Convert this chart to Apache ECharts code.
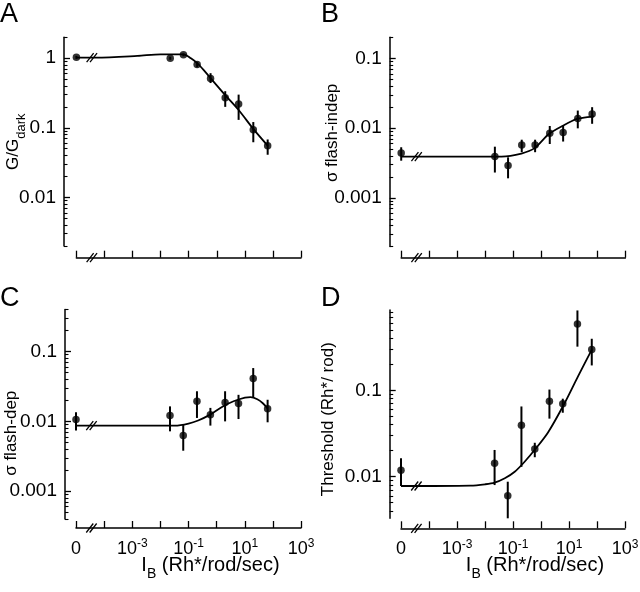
<!DOCTYPE html>
<html><head><meta charset="utf-8">
<script src="https://cdn.jsdelivr.net/npm/echarts@6/dist/echarts.min.js"></script>
<style>html,body{margin:0;padding:0;background:#fff}#c{width:640px;height:592px}</style>
</head><body><div id="c"></div>
<script>
// ---------- DATA ----------
// Background intensity I_B (Rh*/rod/sec); 0 = darkness, drawn left of the axis break
const ibValues = [0, 0.022, 0.065, 0.2, 0.6, 2, 6, 20, 65];
const xTickExponents = [-5, -4, -3, -2, -1, 0, 1, 2, 3];
const xLabelExponents = [-5, -3, -1, 1, 3];

// Panel A: G/Gdark
const gValues = [1.03, 1.0, 1.12, 0.81, 0.51, 0.27, 0.22, 0.094, 0.055];
const gHigh   = [1.08, 1.05, 1.17, 0.89, 0.61, 0.336, 0.30, 0.121, 0.068];
const gLow    = [0.98, 0.95, 1.07, 0.74, 0.44, 0.20, 0.13, 0.062, 0.041];
const gFitX   = [0, 5e-5, 0.0015, 0.01, 0.065, 0.12, 0.2, 0.35, 0.62, 2.0, 6.0, 21, 66];
const gFitY   = [1.02, 1.02, 1.08, 1.14, 1.14, 1.0, 0.85, 0.67, 0.51, 0.295, 0.18, 0.094, 0.055];
const gTickValues = [0.01, 0.1, 1];
const gTickLabels = ['0.01', '0.1', '1'];

// Panel B: sigma flash-indep
const siValues = [0.0044, 0.0039, 0.0029, 0.0057, 0.0057, 0.0084, 0.0086, 0.0137, 0.0159];
const siHigh   = [0.0053, 0.0054, 0.0038, 0.0068, 0.0068, 0.0107, 0.0108, 0.0178, 0.0199];
const siLow    = [0.0034, 0.0023, 0.0019, 0.0045, 0.0045, 0.0059, 0.0064, 0.0099, 0.0115];
const siFitX   = [0, 0.038, 0.195, 0.575, 1.86, 5.9, 19, 63, 75];
const siFitY   = [0.0039, 0.0039, 0.00431, 0.00515, 0.0082, 0.0108, 0.0135, 0.0146, 0.0147];
const siTickValues = [0.001, 0.01, 0.1];
const siTickLabels = ['0.001', '0.01', '0.1'];

// Panel C: sigma flash-dep
const sdValues = [0.0106, 0.0121, 0.0063, 0.0194, 0.0124, 0.0187, 0.018, 0.041, 0.0152];
const sdHigh   = [0.0135, 0.0164, 0.009, 0.027, 0.0156, 0.027, 0.024, 0.058, 0.0204];
const sdLow    = [0.0074, 0.0072, 0.0038, 0.0112, 0.0087, 0.010, 0.0108, 0.0217, 0.0097];
const sdFitX   = [0, 0.033, 0.1, 0.22, 0.59, 1.55, 4.0, 10.2, 16, 28, 44, 66];
const sdFitY   = [0.0087, 0.0087, 0.0093, 0.0103, 0.0125, 0.0161, 0.0194, 0.0219, 0.0222, 0.0207, 0.0182, 0.0152];
const sdTickValues = [0.001, 0.01, 0.1];
const sdTickLabels = ['0.001', '0.01', '0.1'];

// Panel D: threshold (Rh*/rod)
const thValues = [0.0119, 0.0143, 0.006, 0.0395, 0.0209, 0.0747, 0.070, 0.587, 0.297];
const thHigh   = [0.0163, 0.0204, 0.00875, 0.065, 0.0247, 0.102, 0.080, 0.84, 0.395];
const thLow    = [0.0078, 0.008, 0.0033, 0.013, 0.0168, 0.047, 0.055, 0.32, 0.194];
const thFitX   = [0, 0.003, 0.01, 0.022, 0.051, 0.115, 0.26, 0.63, 1.78, 6.5, 21, 66];
const thFitY   = [0.0078, 0.0079, 0.00817, 0.00853, 0.00958, 0.0114, 0.0149, 0.0209, 0.0325, 0.068, 0.145, 0.297];
const thTickValues = [0.01, 0.1];
const thTickLabels = ['0.01', '0.1'];

// ---------- LAYOUT / STYLE ----------
const FONT = '"Liberation Sans", Arial, Helvetica, sans-serif';
const ZERO_POS = 1e-5;                    // where "0" sits on the broken log axis
const BREAK_POS = Math.pow(10, -4.45);    // where the // break mark is drawn
const xp = v => (v === 0 ? ZERO_POS : v);

const panels = [
  { letter: 'A', y: gValues, hi: gHigh, lo: gLow, fx: gFitX, fy: gFitY, tv: gTickValues, tl: gTickLabels,
    ymin: 0.002, ymax: 2, name: 'G/G{sub|dark}', nameGap: 42, namePad: [0, 0, 0, 0],
    grid: { left: 76.4, top: 37.3, width: 224.6, height: 208.7 }, yOff: 12.4, xOff: 11.7, showX: false,
    letterPos: [0, 14] },
  { letter: 'B', y: siValues, hi: siHigh, lo: siLow, fx: siFitX, fy: siFitY, tv: siTickValues, tl: siTickLabels,
    ymin: 0.0002, ymax: 0.2, name: 'σ flash-indep', nameGap: 49, namePad: [0, 0, 0, 18],
    grid: { left: 401.2, top: 37.3, width: 224.2, height: 209.2 }, yOff: 11.5, xOff: 11.2, showX: false,
    letterPos: [321, 14] },
  { letter: 'C', y: sdValues, hi: sdHigh, lo: sdLow, fx: sdFitX, fy: sdFitY, tv: sdTickValues, tl: sdTickLabels,
    ymin: 0.0004, ymax: 0.4, name: 'σ flash-dep', nameGap: 45, namePad: [0, 38, 0, 0],
    grid: { left: 76, top: 309.5, width: 225, height: 209.5 }, yOff: 11, xOff: 9, showX: true,
    letterPos: [0, 298] },
  { letter: 'D', y: thValues, hi: thHigh, lo: thLow, fx: thFitX, fy: thFitY, tv: thTickValues, tl: thTickLabels,
    ymin: 0.0033, ymax: 0.85, name: 'Threshold (Rh*/ rod)', nameGap: 53, namePad: [0, 10, 0, 0],
    grid: { left: 401, top: 310, width: 224, height: 208.3 }, yOff: 11.3, xOff: 10, showX: true,
    letterPos: [321, 298] }
];

function minorTicks(min, max) {
  const out = [];
  for (let e = Math.floor(Math.log10(min)) - 1; e <= Math.ceil(Math.log10(max)); e++) {
    for (let k = 2; k <= 9; k++) {
      const v = k * Math.pow(10, e);
      if (v >= min * (1 - 1e-9) && v <= max * (1 + 1e-9)) out.push(v);
    }
  }
  return out;
}
const xTickValues = xTickExponents.map(e => Math.pow(10, e));
const xLabelValues = xLabelExponents.map(e => Math.pow(10, e));
const xRich = {
  n: { fontFamily: FONT, fontSize: 18, color: '#000', lineHeight: 22 },
  s: { fontFamily: FONT, fontSize: 12, color: '#000', verticalAlign: 'top', lineHeight: 22 }
};
function xFormatter(v) {
  const e = Math.round(Math.log10(v));
  if (e === -5) return '{n|0}';
  return '{n|10}{s|' + e + '}';
}

const grids = [], xAxes = [], yAxes = [], series = [];
panels.forEach((p, i) => {
  grids.push(Object.assign({ containLabel: false, outerBoundsMode: 'none' }, p.grid));
  xAxes.push({
    type: 'log', logBase: 10, gridIndex: i, min: 1e-5, max: 1e3, offset: p.xOff,
    axisLine: { show: true, lineStyle: { color: '#000', width: 1.5 } },
    axisTick: { show: true, inside: true, length: 7, customValues: xTickValues, lineStyle: { color: '#000', width: 1.3 } },
    axisLabel: { show: p.showX, customValues: xLabelValues, formatter: xFormatter, rich: xRich, margin: 10 },
    splitLine: { show: false }, minorTick: { show: false },
    name: p.showX ? 'I{sub|B} (Rh*/rod/sec)' : '', nameLocation: 'middle', nameGap: 27, nameMoveOverlap: false,
    nameTextStyle: { fontFamily: FONT, fontSize: 20, color: '#000', padding: [0, 0, 0, 44],
      rich: { sub: { fontFamily: FONT, fontSize: 14, color: '#000', verticalAlign: 'bottom', padding: [0, 0, -6, 0] } } }
  });
  yAxes.push({
    type: 'log', logBase: 10, gridIndex: i, min: p.ymin, max: p.ymax, offset: p.yOff,
    axisLine: { show: true, lineStyle: { color: '#000', width: 1.5 } },
    axisTick: { show: true, inside: true, length: 6, customValues: p.tv, lineStyle: { color: '#000', width: 1.3 } },
    axisLabel: { show: true, customValues: p.tv, margin: 8, fontFamily: FONT, fontSize: 19, color: '#000',
      formatter: v => { const k = p.tv.findIndex(t => Math.abs(t - v) / t < 1e-6); return k >= 0 ? p.tl[k] : ''; } },
    splitLine: { show: false }, minorTick: { show: false },
    name: p.name, nameLocation: 'middle', nameGap: p.nameGap, nameMoveOverlap: false,
    nameTextStyle: { fontFamily: FONT, fontSize: 17, color: '#000', padding: p.namePad,
      rich: { sub: { fontFamily: FONT, fontSize: 13, color: '#000', verticalAlign: 'bottom', padding: [0, 0, -6, 0] } } }
  });
});
// overlay grids carrying the minor ticks of each log y-axis
panels.forEach((p, i) => {
  grids.push(Object.assign({ containLabel: false, outerBoundsMode: 'none' }, p.grid));
  xAxes.push({ type: 'log', gridIndex: 4 + i, min: 1e-5, max: 1e3, show: false });
  yAxes.push({
    type: 'log', logBase: 10, gridIndex: 4 + i, min: p.ymin, max: p.ymax, offset: p.yOff,
    axisLine: { show: false },
    axisTick: { show: true, inside: true, length: 3.5, customValues: minorTicks(p.ymin, p.ymax), lineStyle: { color: '#000', width: 1.1 } },
    axisLabel: { show: false }, splitLine: { show: false }
  });
});

panels.forEach((p, i) => {
  series.push({
    type: 'line', xAxisIndex: i, yAxisIndex: i, data: p.fx.map((x, k) => [xp(x), p.fy[k]]),
    smooth: 0.3, showSymbol: false, symbol: 'none',
    lineStyle: { color: '#000', width: 1.8 }, silent: true, z: 2
  });
  series.push({
    type: 'custom', xAxisIndex: i, yAxisIndex: i,
    data: ibValues.map((x, k) => [xp(x), p.lo[k], p.hi[k]]),
    encode: { x: 0, y: [1, 2] },
    renderItem: (params, api) => {
      const a = api.coord([api.value(0), api.value(1)]);
      const b = api.coord([api.value(0), api.value(2)]);
      return { type: 'line', shape: { x1: a[0], y1: a[1], x2: b[0], y2: b[1] }, style: { stroke: '#000', lineWidth: 2 } };
    }, z: 3, silent: true
  });
  series.push({
    type: 'scatter', xAxisIndex: i, yAxisIndex: i, data: ibValues.map((x, k) => [xp(x), p.y[k]]),
    symbol: 'circle', symbolSize: 7.5, itemStyle: { color: '#000' }, z: 4, silent: true
  });
});

const chart = echarts.init(document.getElementById('c'), null, { renderer: 'canvas' });
chart.setOption({
  animation: false, backgroundColor: '#fff',
  grid: grids, xAxis: xAxes, yAxis: yAxes, series: series
});

// axis-break marks ( // ) on each x-axis and on each fitted curve
function slash(cx, cy) {
  return [-1.7, 1.7].map(d => ({ type: 'line', z: 10,
    shape: { x1: cx + d - 3.5, y1: cy + 4.5, x2: cx + d + 3.5, y2: cy - 4.5 },
    style: { stroke: '#000', lineWidth: 1.3 } }));
}
const marks = [];
panels.forEach((p, i) => {
  const rect = chart.getModel().getComponent('grid', i).coordinateSystem.getRect();
  const bx = chart.convertToPixel({ xAxisIndex: i }, BREAK_POS);
  const axisY = rect.y + rect.height + p.xOff;
  const cy = chart.convertToPixel({ yAxisIndex: i }, p.fy[0]);
  marks.push(...slash(bx, axisY), ...slash(bx, cy));
});
const letters = panels.map(p => ({ type: 'text', left: p.letterPos[0], top: p.letterPos[1] - 13,
    style: { text: p.letter, font: '27px ' + FONT, fill: '#000' } }));
chart.setOption({ graphic: letters.concat(marks) });
</script></body></html>
